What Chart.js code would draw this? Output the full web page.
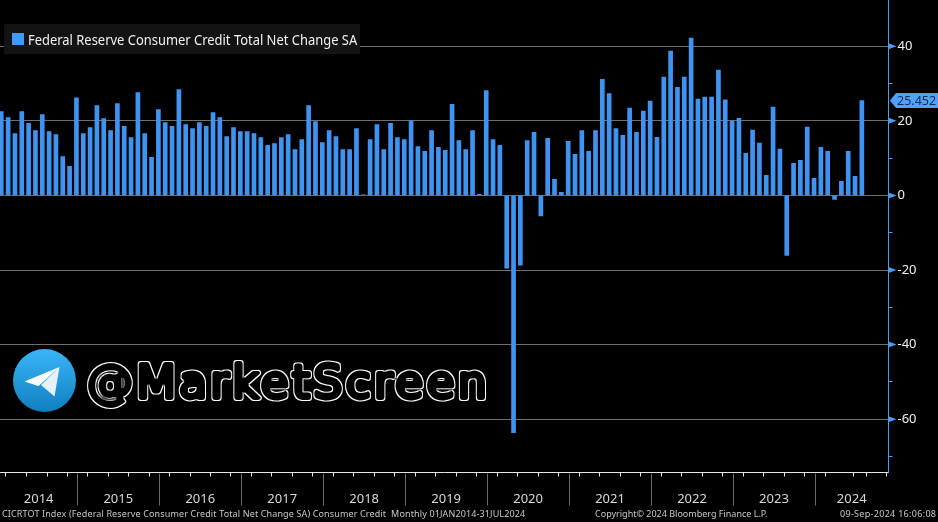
<!DOCTYPE html>
<html>
<head>
<meta charset="utf-8">
<title>Federal Reserve Consumer Credit Total Net Change SA</title>
<script src="https://cdn.jsdelivr.net/npm/chart.js@4"></script>
<style>
    html, body { margin: 0; padding: 0; background: #000; overflow: hidden; }
    #wrap { position: relative; width: 938px; height: 522px; font-family: "Noto Sans", sans-serif; }
    canvas { display: block; }
    #legend { position: absolute; left: 4px; top: 24px; width: 356px; height: 30px; background: rgba(20, 20, 20, 0.94); color: #f2f2f2; font-size: 14px; line-height: 31px; white-space: nowrap; }
    #legend i { position: absolute; left: 8px; top: 9px; width: 12px; height: 12px; background: #3f9bff; }
    #legend span { position: absolute; left: 24px; top: 0; transform: scaleX(0.924); transform-origin: left center; }
    .foot { position: absolute; top: 508px; color: #c8c8c8; font-size: 9px; line-height: 12px; white-space: pre; }
    #mark { position: absolute; left: 0; top: 340px; }
</style>
</head>
<body>
<div id="wrap">
    <canvas id="creditCanvas" width="938" height="522"></canvas>
    <div id="legend"><i></i><span id="legendText"></span></div>
    <div class="foot" style="left:2px; letter-spacing:0.13px" id="footLeft"></div>
    <div class="foot" style="left:595px" id="footMid"></div>
    <div class="foot" style="left:840px; letter-spacing:0.3px" id="footRight"></div>
    <svg id="mark" width="520" height="80" viewBox="0 340 520 80">
        <defs>
            <linearGradient id="tg" x1="0" y1="0" x2="0" y2="1">
                <stop offset="0" stop-color="#39b6f7"/>
                <stop offset="1" stop-color="#0f7fc0"/>
            </linearGradient>
            <filter id="ring" x="-5%" y="-20%" width="110%" height="140%">
                <feMorphology in="SourceAlpha" operator="erode" radius="1.3" result="inner"/>
                <feFlood flood-color="#fff"/>
                <feComposite in2="SourceAlpha" operator="in" result="solid"/>
                <feComposite in="solid" in2="inner" operator="out"/>
            </filter>
        </defs>
        <circle cx="44.5" cy="380.5" r="31.5" fill="url(#tg)"/>
        <path d="M59.5 367 L24.5 381.5 L38.5 386 Z" fill="#fff"/>
        <path d="M59.5 367 L41 385 L54.5 396.5 Z" fill="#e6f2fa"/>
        <text x="87" y="398" font-family="DejaVu Sans" font-size="46" fill="#fff" stroke="#fff" stroke-width="6" stroke-linejoin="round" stroke-linecap="round" textLength="400" lengthAdjust="spacing" filter="url(#ring)">@MarketScreen</text>
    </svg>
</div>
<script>
const seriesName = "Federal Reserve Consumer Credit Total Net Change SA";
const years = [2014, 2015, 2016, 2017, 2018, 2019, 2020, 2021, 2022, 2023, 2024];
const yTickLabels = [40, 20, 0, -20, -40, -60];
const lastValue = 25.452;

// monthly values Jan 2014 to Jul 2024
const netChange = [
    22.5, 20.9, 16.6, 22.5, 19.3, 17.4, 21.7, 17.1, 16.3, 10.4, 7.8, 26.2,
    16.6, 18.2, 24.1, 20.6, 17.4, 24.6, 18.5, 15.5, 27.6, 16.6, 10.2, 23.0,
    19.5, 18.5, 28.4, 19.0, 17.9, 19.5, 18.5, 22.2, 20.9, 15.8, 18.2, 17.1,
    17.1, 16.6, 15.5, 13.4, 13.9, 15.5, 16.3, 12.3, 15.0, 24.1, 19.8, 14.2,
    17.4, 15.8, 12.3, 12.3, 17.9, 0.1, 15.0, 19.0, 12.3, 19.3, 15.5, 15.0,
    20.0, 13.1, 11.8, 17.4, 12.9, 12.1, 24.4, 14.7, 12.3, 17.4, 0.3, 28.1,
    15.0, 13.4, -19.5, -63.6, -18.7, 14.7, 16.9, -5.5, 15.3, 4.3, 0.8, 14.5,
    11.0, 17.4, 11.8, 17.4, 31.1, 27.3, 17.9, 16.1, 23.4, 16.9, 22.6, 25.3,
    15.6, 31.7, 38.7, 29.0, 31.7, 42.2, 25.8, 26.4, 26.4, 33.6, 25.6, 19.9,
    20.7, 11.3, 17.5, 14.0, 5.4, 23.7, 12.4, -16.1, 8.6, 9.4, 18.3, 4.6,
    12.9, 11.8, -1.1, 3.8, 11.8, 5.1, lastValue
];

const footerLeft = "CICRTOT Index (Federal Reserve Consumer Credit Total Net Change SA) Consumer Credit  Monthly 01JAN2014-31JUL2024";
const footerMid = "Copyright\u00A9 2024 Bloomberg Finance L.P.";
const footerRight = "09-Sep-2024 16:06:08";

document.getElementById('legendText').textContent = seriesName;
document.getElementById('footLeft').textContent = footerLeft;
document.getElementById('footMid').textContent = footerMid;
document.getElementById('footRight').textContent = footerRight;

const xMin = -0.19;
const xMax = 129.9;
// year boundary sits a little before the January bar
const firstYearEnd = 11.13;
const BLUE = '#3e94f0';
const axisFont = { family: '"Noto Sans"', size: 13 };

function noPadding(s) {
    s.paddingLeft = 0;
    s.paddingRight = 0;
    s.paddingTop = 0;
    s.paddingBottom = 0;
}

// triangles on the axis, the last-value tag and the long year separators
const decorations = {
    id: 'decorations',
    afterDraw(chart) {
        const { ctx, chartArea } = chart;
        const y = chart.scales.y;
        const x = chart.scales.x;
        ctx.save();

        ctx.fillStyle = '#4a9df5';
        yTickLabels.forEach(function (v) {
            const p = y.getPixelForValue(v);
            ctx.beginPath();
            ctx.moveTo(chartArea.right, p - 3);
            ctx.lineTo(chartArea.right + 8, p);
            ctx.lineTo(chartArea.right, p + 3);
            ctx.fill();
        });

        ctx.strokeStyle = '#6a6a6a';
        ctx.lineWidth = 1;
        years.slice(0, -1).forEach(function (yr, i) {
            const p = Math.round(x.getPixelForValue(firstYearEnd + i * 12)) + 0.5;
            ctx.beginPath();
            ctx.moveTo(p, chartArea.bottom + 1);
            ctx.lineTo(p, chartArea.bottom + 33);
            ctx.stroke();
        });

        const tagY = y.getPixelForValue(lastValue);
        ctx.fillStyle = '#4da3ff';
        ctx.beginPath();
        ctx.moveTo(890, tagY);
        ctx.lineTo(896, tagY - 7.5);
        ctx.lineTo(938, tagY - 7.5);
        ctx.lineTo(938, tagY + 7.5);
        ctx.lineTo(896, tagY + 7.5);
        ctx.closePath();
        ctx.fill();
        ctx.fillStyle = '#0f2a4d';
        ctx.font = '12.5px "Noto Sans"';
        ctx.textAlign = 'left';
        ctx.textBaseline = 'middle';
        ctx.fillText(lastValue.toFixed(3), 897, tagY + 0.5);
        ctx.restore();
    }
};

const ctx = document.getElementById('creditCanvas').getContext('2d');
const creditChart = new Chart(ctx, {
    type: 'bar',
    data: {
        datasets: [{
            label: seriesName,
            data: netChange.map(function (v, i) { return { x: i, y: v }; }),
            backgroundColor: BLUE,
            barThickness: 4
        }]
    },
    plugins: [decorations],
    options: {
        responsive: false,
        animation: false,
        devicePixelRatio: 1,
        layout: { padding: 0 },
        plugins: {
            legend: { display: false },
            tooltip: { enabled: false }
        },
        scales: {
            x: {
                type: 'linear',
                offset: false,
                min: xMin,
                max: xMax,
                afterFit: function (s) { s.height = 49.5; noPadding(s); },
                afterBuildTicks: function (s) {
                    const list = [];
                    for (let v = firstYearEnd - 9; v < xMax; v += 3) {
                        list.push({ value: v });
                    }
                    years.forEach(function (yr, i) {
                        const from = Math.max(xMin, firstYearEnd + (i - 1) * 12);
                        const to = Math.min(xMax, firstYearEnd + i * 12);
                        list.push({ value: (from + to) / 2, year: yr });
                    });
                    list.sort(function (a, b) { return a.value - b.value; });
                    s.ticks = list;
                },
                grid: {
                    drawOnChartArea: false,
                    tickLength: 4,
                    tickColor: function (c) { return c.tick && c.tick.year ? 'rgba(0,0,0,0)' : '#e0e0e0'; }
                },
                border: { color: '#e8e8e8', width: 1 },
                ticks: {
                    autoSkip: false,
                    maxRotation: 0,
                    padding: 15,
                    color: '#d8d8d8',
                    font: axisFont,
                    callback: function (value, index, ticks) { return ticks[index].year ? String(ticks[index].year) : ''; }
                }
            },
            y: {
                position: 'right',
                min: -74.3,
                max: 52.4,
                afterFit: function (s) { s.width = 49.5; noPadding(s); },
                afterBuildTicks: function (s) {
                    s.ticks = s.ticks.filter(function (t) { return t.value % 10 === 0; });
                },
                grid: {
                    tickLength: 4,
                    tickColor: '#4a9df5',
                    color: function (c) { return c.tick && c.tick.value % 20 === 0 ? '#6e6e6e' : 'rgba(0,0,0,0)'; }
                },
                border: { color: '#4a9df5', width: 1 },
                ticks: {
                    stepSize: 10,
                    padding: 5,
                    color: '#f0f0f0',
                    font: axisFont,
                    callback: function (value) { return value % 20 === 0 ? String(value) : ''; }
                }
            }
        }
    }
});
</script>
</body>
</html>
